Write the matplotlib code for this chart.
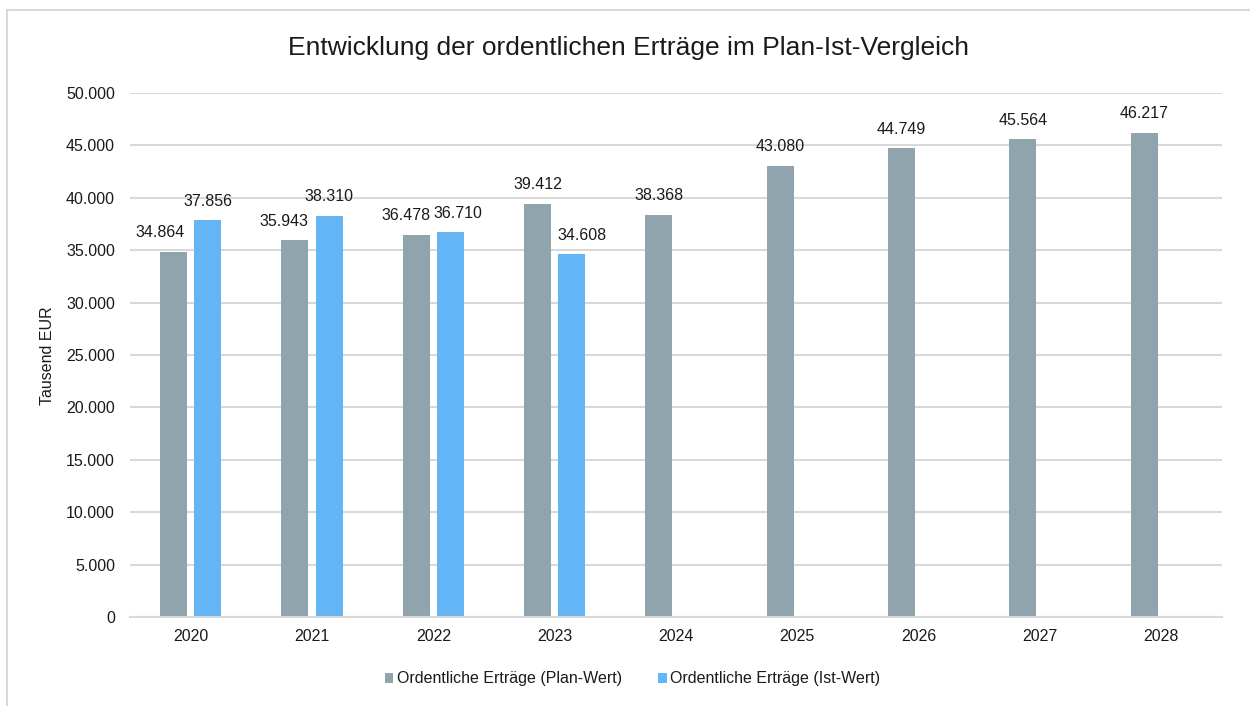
import matplotlib
matplotlib.use("Agg")
import matplotlib.pyplot as plt
import numpy as np
from matplotlib.patches import Rectangle

plt.rcParams['font.family'] = ['Liberation Sans', 'DejaVu Sans']

years = ["2020", "2021", "2022", "2023", "2024", "2025", "2026", "2027", "2028"]
plan = [34864, 35943, 36478, 39412, 38368, 43080, 44749, 45564, 46217]
ist = [37856, 38310, 36710, 34608, None, None, None, None, None]
yticks = [0, 5000, 10000, 15000, 20000, 25000, 30000, 35000, 40000, 45000, 50000]

# horizontal nudges of data labels (pixels), as in the reference
plan_dx = [-13.5, -11, -10.5, 0, 0, 0, 0, 0, 0]
ist_dx = [0, 0, 7.5, 10]

def fmt(v):
    return f"{v:,}".replace(",", ".")

FS = 11.5
TXT = '#1a1a1a'

fig = plt.figure(figsize=(12.5, 7.06), dpi=100)
fig.patches.append(Rectangle((7/1250, -0.1), 1.2, 1 - 10/706 + 0.1, transform=fig.transFigure,
                             fill=False, edgecolor='#d9d9d9', linewidth=1.5))
ax = fig.add_axes([130/1250, 1 - 617/706, (1222-130)/1250, (617-93)/706])

x = np.arange(len(years))
w = 0.22
off = 0.1414
plan_c = '#90A4AE'
ist_c = '#64B5F6'
ax.bar(x - off, plan, w, color=plan_c, label='Ordentliche Erträge (Plan-Wert)', zorder=3)
ist_x = [xi + off for xi, v in zip(x, ist) if v is not None]
ist_v = [v for v in ist if v is not None]
ax.bar(ist_x, ist_v, w, color=ist_c, label='Ordentliche Erträge (Ist-Wert)', zorder=3)

for xi, v, dx in zip(x - off, plan, plan_dx):
    ax.annotate(fmt(v), (xi, v), xytext=(dx, 11.5), textcoords='offset pixels', ha='center',
                va='bottom', fontsize=FS, color=TXT, zorder=5)
for xi, v, dx in zip(ist_x, ist_v, ist_dx):
    ax.annotate(fmt(v), (xi, v), xytext=(dx, 11.5), textcoords='offset pixels', ha='center',
                va='bottom', fontsize=FS, color=TXT, zorder=5)

ax.set_xlim(-0.5, len(years) - 0.5)
ax.set_ylim(0, 50000)
ax.set_yticks(yticks)
ax.set_yticklabels([fmt(t) for t in yticks], fontsize=FS, color=TXT)
ax.set_xticks(x)
ax.set_xticklabels(years, fontsize=FS, color=TXT)
ax.tick_params(axis='x', length=0, pad=8.7)
ax.tick_params(axis='y', length=0, pad=10.8)
ax.grid(axis='y', color='#d9d9d9', linewidth=1.5, zorder=0)
for s in ['top', 'right', 'left']:
    ax.spines[s].set_visible(False)
ax.spines['bottom'].set_color('#d9d9d9')
ax.spines['bottom'].set_linewidth(1.5)
ax.spines['bottom'].set_zorder(4)

fig.text(48/1250, 1 - 356/706, 'Tausend EUR', rotation=90, ha='center', va='center',
         fontsize=FS, color=TXT)
fig.text(629/1250, 1 - 55/706, 'Entwicklung der ordentlichen Erträge im Plan-Ist-Vergleich',
         ha='center', va='baseline', fontsize=19, color=TXT)

leg = fig.legend(loc='center', bbox_to_anchor=(632.5/1250, 1 - 679/706), ncol=2, frameon=False,
                 fontsize=FS, handlelength=0.56, handleheight=0.56, handletextpad=0.19,
                 columnspacing=2.3, borderpad=0)
for t in leg.get_texts():
    t.set_color(TXT)

fig.savefig('out.png', dpi=100)
